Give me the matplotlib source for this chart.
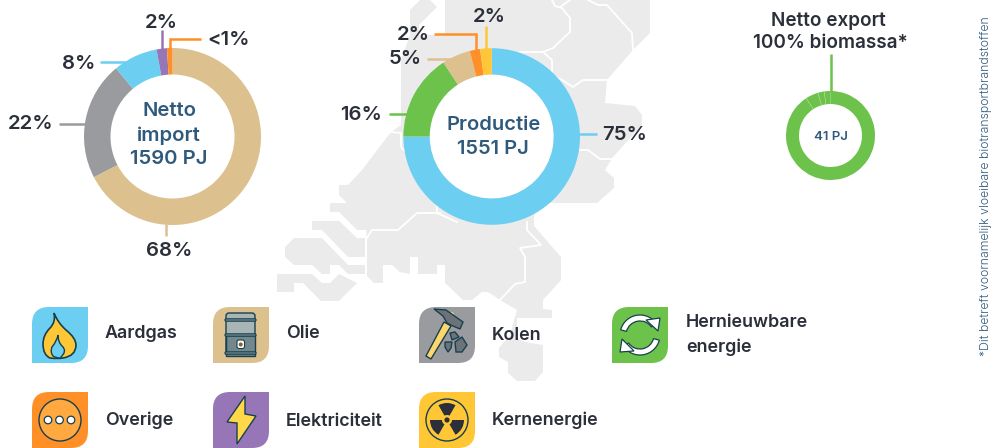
# energiestromen: drie donuts met kaart op de achtergrond
import numpy as np
import matplotlib
matplotlib.use('Agg')
import matplotlib.pyplot as plt
from matplotlib.patches import Circle, Polygon, Rectangle, PathPatch, Wedge, FancyBboxPatch
from matplotlib.path import Path

plt.rcParams['font.family'] = ['Inter', 'DejaVu Sans']

# kleuren per energiedrager
GAS = '#6CCFF2'
OIL = '#DCC08E'
COAL = '#9A9B9F'
GREEN = '#6CC24A'
ORANGE = '#FF9028'
PURPLE = '#9776B8'
YELLOW = '#FFC736'
DARK = '#2B2F3A'
BLUE = '#2F5A7C'
MAP = '#EBEBEB'
LINE = '#17404F'

# data
import_values = [67.4, 21.6, 8.1, 1.9, 1.0]
import_colors = [OIL, COAL, GAS, PURPLE, ORANGE]
import_labels = ['68%', '22%', '8%', '2%', '<1%']

prod_values = [75.0, 15.8, 5.2, 1.9, 2.1]
prod_colors = [GAS, GREEN, OIL, ORANGE, YELLOW]
prod_labels = ['75%', '16%', '5%', '2%', '2%']

export_values = [90.8, 4.6, 2.3, 2.3]

legend_names = ['Aardgas', 'Olie', 'Kolen', 'Hernieuwbare\nenergie',
                'Overige', 'Elektriciteit', 'Kernenergie']

W, H = 992, 448
fig = plt.figure(figsize=(W / 100, H / 100), dpi=100)

# achtergrondlaag in pixels
bg = fig.add_axes([0, 0, 1, 1], zorder=0)
bg.set_xlim(0, W)
bg.set_ylim(H, 0)
bg.axis('off')

main = [(410, 10), (420, 0), (430, 0), (437, 7), (419, 25), (419, 35), (445, 35), (445, 0),
        (650, 0), (650, 33), (633, 50), (607, 80), (605, 103), (635, 106), (642, 115),
        (642, 125), (613, 157), (605, 170), (614, 178), (614, 188), (597, 203), (537, 203),
        (534, 218), (534, 226), (561, 257), (561, 280), (543, 300), (543, 309), (552, 310),
        (552, 318), (517, 318), (517, 338), (525, 342), (543, 345), (543, 372), (535, 381),
        (517, 381), (508, 373), (508, 362), (499, 357), (499, 348), (510, 335), (517, 310),
        (500, 300), (488, 292), (482, 292), (472, 300), (463, 300), (445, 283), (445, 265),
        (437, 265), (437, 274), (418, 274), (418, 257), (410, 257), (410, 274), (400, 272),
        (392, 265), (383, 265), (383, 283), (374, 283), (367, 276), (367, 238), (366, 230),
        (357, 230), (339, 212), (330, 212), (330, 203), (347, 203), (339, 195), (339, 185),
        (348, 185), (362, 170), (391, 132), (401, 125), (401, 60), (410, 35)]
band = [(312, 221), (339, 221), (357, 238), (365, 238), (365, 257), (348, 257), (322, 230),
        (312, 230)]
island1 = [(294, 238), (322, 238), (348, 265), (365, 265), (365, 274), (348, 274), (339, 265),
           (330, 265), (330, 274), (322, 274), (312, 265), (294, 265), (285, 257), (285, 247)]
island2 = [(277, 274), (312, 274), (322, 283), (330, 283), (339, 274), (357, 283), (339, 301),
           (321, 301), (303, 283), (294, 283), (294, 292), (277, 292)]
for poly in [main, band, island1, island2]:
    bg.add_patch(Polygon(poly, closed=True, fc=MAP, ec='none'))

borders = [
    [(552, 0), (555, 6), (562, 8), (570, 18), (570, 32), (553, 48), (543, 52), (520, 52)],
    [(570, 0), (560, 7)],
    [(588, 0), (598, 5), (607, 5), (632, 33), (633, 50)],
    [(543, 52), (552, 60), (552, 75), (562, 80), (573, 87), (583, 80), (607, 80)],
    [(580, 150), (588, 150), (600, 159), (613, 159)],
    [(440, 213), (417, 213), (398, 230), (372, 230), (367, 238)],
    [(437, 200), (437, 213), (457, 222)],
    [(527, 222), (527, 230), (541, 245), (520, 248), (525, 257), (525, 282), (515, 284), (500, 300)],
    [(391, 132), (401, 133), (401, 147), (405, 151)],
]
for b in borders:
    xs, ys = zip(*b)
    bg.plot(xs, ys, color='white', lw=1.3, solid_joinstyle='round')


def donut(cx, cy, r, inner, values, colors):
    ax = fig.add_axes([(cx - r) / W, 1 - (cy + r) / H, 2 * r / W, 2 * r / H], zorder=1)
    ax.pie(values, colors=colors, startangle=90, counterclock=False, radius=1,
           wedgeprops={'width': 1 - inner / r, 'linewidth': 0})
    ax.add_patch(Circle((0, 0), inner / r, fc='white', ec='none', zorder=0))
    ax.set_xlim(-1, 1)
    ax.set_ylim(-1, 1)
    ax.axis('off')
    return ax


donut(172.5, 136.5, 88.5, 62, import_values, import_colors)
donut(491.7, 136.5, 88.3, 62, prod_values, prod_colors)
ax3 = donut(830.5, 135.5, 44.5, 31.5, export_values, [GREEN] * 4)
# de dunne scheidingen in de exportring
for a in np.cumsum(export_values)[:3]:
    t = np.radians(90 - a * 3.6)
    ax3.plot([np.cos(t) * 0.72, np.cos(t)], [np.sin(t) * 0.72, np.sin(t)],
             color='#A5DD8E', lw=0.4)

# voorgrondlaag in pixels
fg = fig.add_axes([0, 0, 1, 1], zorder=2)
fg.set_xlim(0, W)
fg.set_ylim(H, 0)
fg.axis('off')
fg.patch.set_alpha(0)


def leader(points, color):
    xs, ys = zip(*points)
    fg.plot(xs, ys, color=color, lw=1.8, solid_capstyle='butt', solid_joinstyle='miter')


leader([(161.5, 30), (161.5, 50)], PURPLE)
leader([(201, 39), (169.5, 39), (169.5, 50)], ORANGE)
leader([(100, 62.5), (127, 62.5)], GAS)
leader([(59, 124), (86, 124)], COAL)
leader([(166, 224), (166, 236)], OIL)
leader([(485.5, 26), (485.5, 50)], YELLOW)
leader([(434, 34.5), (476, 34.5), (476, 52)], ORANGE)
leader([(427, 59), (452, 59)], OIL)
leader([(389, 114), (408, 114)], GREEN)
leader([(579, 134), (597, 134)], GAS)
leader([(830.5, 54), (830.5, 92)], GREEN)


def label(x, y, s, size=14.6, color=DARK, weight=600, **kw):
    fg.text(x, y, s, fontsize=size, color=color, fontweight=weight, ha=kw.pop('ha', 'center'),
            va=kw.pop('va', 'center'), **kw)


for (x, y), s in zip([(169, 251), (31, 124), (79, 64), (161, 23), (229, 40)], import_labels):
    label(x, y, s)
for (x, y), s in zip([(625, 135), (361, 115), (405, 59), (413, 35), (489, 17)], prod_labels):
    label(x, y, s)

label(169, 111.5, 'Netto', size=14.6, color=BLUE)
label(169, 135.5, 'import', size=14.6, color=BLUE)
label(169, 159.5, '1590 PJ', size=14.6, color=BLUE)
label(494, 125.5, 'Productie', size=14.5, color=BLUE)
label(493, 148.5, '1551 PJ', size=14.5, color=BLUE)
label(828, 21.5, 'Netto export', size=13.6)
label(830, 42.5, '100% biomassa*', size=13.6)
label(831, 137, '41 PJ', size=9.5, color=BLUE)
label(986, 186.5, '*Dit betreft voornamelijk vloeibare biotransportbrandstoffen', size=8.85,
      color=BLUE, weight=300, rotation=90)

legend_pos = [(105, 334), (286, 334), (492, 335), (686, 335), (105, 420), (286, 421), (492, 420)]
for (x, y), s in zip(legend_pos, legend_names):
    label(x, y, s, size=12.9, ha='left', linespacing=1.5)


# tegels: linksboven en rechtsonder rond, de andere twee hoeken scherp
def tile(x, y, color, s=56, r=17):
    v = [(x + r, y), (x + s, y), (x + s, y + s - r), (x + s, y + s), (x + s - r, y + s),
         (x, y + s), (x, y + r), (x, y), (x + r, y), (x + r, y)]
    c = [Path.MOVETO, Path.LINETO, Path.LINETO, Path.CURVE3, Path.CURVE3,
         Path.LINETO, Path.LINETO, Path.CURVE3, Path.CURVE3, Path.CLOSEPOLY]
    fg.add_patch(PathPatch(Path(v, c), fc=color, ec='none'))


def blob(pts, fc, ec=LINE, lw=1.2):
    # eerste punt, daarna steeds paren (controlepunt, eindpunt)
    c = [Path.MOVETO] + [Path.CURVE3] * (len(pts) - 1) + [Path.CLOSEPOLY]
    fg.add_patch(PathPatch(Path(pts + [pts[0]], c), fc=fc, ec=ec, lw=lw))


tile(32, 307, GAS)
blob([(54, 313), (58, 323), (66, 330), (76, 338), (76, 345), (76, 356), (63, 358), (58, 359),
      (50, 358), (43, 355), (43, 344), (43, 335), (50, 328), (56, 322), (54, 313)], YELLOW)
blob([(58, 335), (58, 342), (62, 346), (68, 351), (60, 358), (56, 358), (53, 356), (50, 352),
      (52, 347), (57, 341), (58, 335)], GAS, lw=1.0)

tile(213, 307, OIL)
fg.add_patch(FancyBboxPatch((226, 313), 29, 43, boxstyle='round,pad=0,rounding_size=3',
                            fc='#A8B5B5', ec=LINE, lw=1))
fg.add_patch(Rectangle((226, 335), 29, 21, fc='#73888C', ec=LINE, lw=1))
for yy in [320, 335, 353]:
    fg.add_patch(FancyBboxPatch((225, yy - 1.2), 31, 2.4, boxstyle='round,pad=0,rounding_size=1',
                                fc='#73888C', ec=LINE, lw=0.8))
fg.add_patch(FancyBboxPatch((237, 340), 7.5, 8.5, boxstyle='round,pad=0,rounding_size=2',
                            fc='white', ec=LINE, lw=0.8))
fg.add_patch(Circle((240.7, 344.5), 2, fc='#8A5A2B', ec='none'))

tile(419, 307, COAL)
fg.add_patch(Polygon([(426, 356), (431, 359), (451, 326), (444, 322)], fc='#FFD66B', ec=LINE, lw=1))
fg.add_patch(Circle((452, 314), 1.8, fc='#FFD66B', ec='none'))
fg.add_patch(Polygon([(434, 309), (446, 310), (463, 322), (460, 329), (453, 326), (447, 323),
                      (443, 316)], fc='#6C7378', ec=LINE, lw=1))
for pts in [[(450, 333), (455, 332), (459, 337), (452, 340)],
            [(445, 342), (452, 342), (451, 348), (448, 352), (445, 347)],
            [(455, 342), (462, 337), (467, 345), (462, 352), (456, 352)]]:
    fg.add_patch(Polygon(pts, fc='#6C7378', ec=LINE, lw=1))

tile(612, 307, GREEN)
# y-as staat omgekeerd, dus hoeken lopen met de klok mee op het scherm
fg.add_patch(Wedge((640, 335), 20, 195, 325, width=6, fc='white', ec=LINE, lw=0.9))
fg.add_patch(Wedge((640, 335), 20, 15, 145, width=6, fc='white', ec=LINE, lw=0.9))
fg.add_patch(Polygon([(646, 320), (660, 318), (658, 331)], fc='white', ec=LINE, lw=0.9))
fg.add_patch(Polygon([(622, 339), (634, 351), (620, 352)], fc='white', ec=LINE, lw=0.9))

tile(32, 392, ORANGE)
fg.add_patch(Circle((60, 420), 21, fc='#FFA940', ec=LINE, lw=1))
for xx in [48, 59.5, 71]:
    fg.add_patch(Circle((xx, 420), 3.8, fc='white', ec=LINE, lw=0.9))

tile(213, 392, PURPLE)
fg.add_patch(Polygon([(245, 396), (227, 422), (237, 423), (237, 444), (256, 416), (245, 414)],
                     fc='#FFD84A', ec=LINE, lw=1))

tile(419, 392, YELLOW)
fg.add_patch(Circle((447, 420), 21, fc='none', ec=LINE, lw=1))
# bovenste blad recht boven het midden; y-as omgekeerd
for a in [270, 30, 150]:
    fg.add_patch(Wedge((447, 420), 17, a - 30, a + 30, width=12, fc=DARK, ec='none'))
fg.add_patch(Circle((447, 420), 2.6, fc=DARK, ec='none'))

fig.savefig('out.png', dpi=100)
